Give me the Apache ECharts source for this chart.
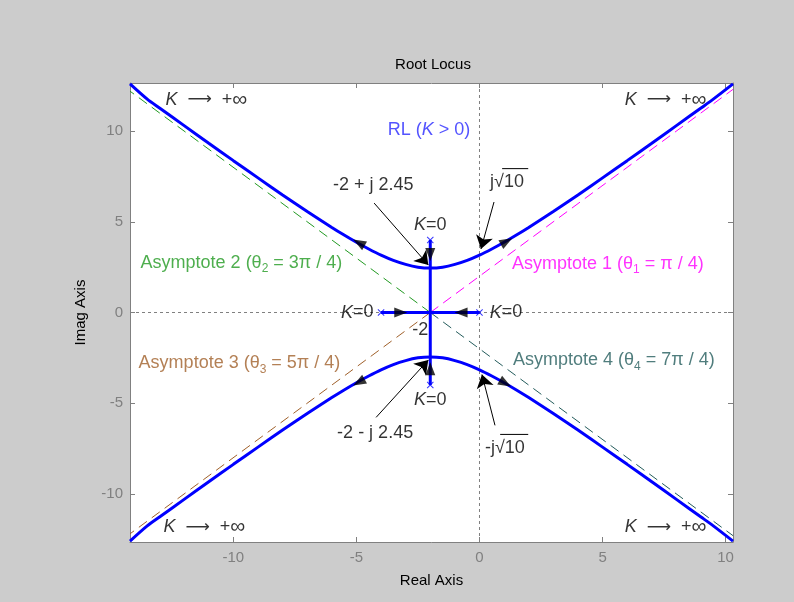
<!DOCTYPE html>
<html>
<head>
<meta charset="utf-8">
<script src="https://cdn.jsdelivr.net/npm/echarts@6/dist/echarts.min.js"></script>
<style>
  html, body { margin: 0; padding: 0; background: #cccccc; }
  #chart { width: 794px; height: 602px; }
</style>
</head>
<body>
<div id="chart"></div>
<script>
// Root locus of G(s) = K / [s (s + 4) (s^2 + 4s + 20)]

// axis extents and ticks
const xRange = [-14.2, 10.3];
const yRange = [-12.65, 12.65];
const xTicks = [-10, -5, 0, 5, 10];
const yTicks = [-10, -5, 0, 5, 10];

// complex branches leaving -2 ± j2.45
const locusX      = [-14.2, -13.5, -13, -12, -11, -10, -9, -8, -7, -6, -5.5, -5, -4.5, -4, -3.5, -3, -2.5, -2,
                     -1.5, -1, -0.5, 0, 0.5, 1, 1.5, 2, 3, 4, 5, 6, 7, 8, 9, 9.5, 10.3];
const locusUpperY = [12.6, 11.76, 11.27, 10.30, 9.33, 8.37, 7.42, 6.48, 5.57, 4.69, 4.27, 3.87, 3.50, 3.16, 2.87, 2.65, 2.50, 2.45,
                     2.50, 2.65, 2.87, 3.16, 3.50, 3.87, 4.27, 4.69, 5.57, 6.48, 7.42, 8.37, 9.33, 10.30, 11.27, 11.76, 12.6];
const locusLowerY = [-12.6, -11.76, -11.27, -10.30, -9.33, -8.37, -7.42, -6.48, -5.57, -4.69, -4.27, -3.87, -3.50, -3.16, -2.87, -2.65, -2.50, -2.45,
                     -2.50, -2.65, -2.87, -3.16, -3.50, -3.87, -4.27, -4.69, -5.57, -6.48, -7.42, -8.37, -9.33, -10.30, -11.27, -11.76, -12.6];

// real-axis branch and the vertical branch through the breakaway point
const realBranch = [[-4, 0], [0, 0]];
const verticalBranch = [[-2, 4], [-2, -4]];

// open-loop poles (K = 0)
const poles = [[0, 0], [-4, 0], [-2, 4], [-2, -4]];

// asymptotes from the centroid
const centroid = [-2, 0];
const asymptoteEnds = [[10.3, 12.3], [-14.2, 12.2], [-14.2, -12.2], [10.3, -12.3]];

// direction-of-increasing-K markers: position and heading (degrees, screen angle)
const arrowMarks = [[-3.2, 0], [-0.75, 0], [-2, 3.2], [-2, -3.1], [-4.9, 3.85], [1.1, 3.92], [-4.9, -3.85], [1.05, -3.9]];
const arrowHeadings = [0, 180, 270, 90, 151, 29, 209, 331];

// callout arrows: tail and tip
const calloutTails = [[-4.28, 6.03], [0.59, 6.09], [-4.2, -5.78], [0.63, -6.22]];
const calloutTips  = [[-2.08, 2.62], [0.06, 3.5], [-2.08, -2.62], [0.1, -3.42]];

// radical vincula over "10"
const vinculumUpper = [[0.92, 7.93], [1.98, 7.93]];
const vinculumLower = [[0.84, -6.72], [1.98, -6.72]];

// centred annotation texts and their anchor points
const labelTexts = [
  'RL ({k|K} > 0)',
  '-2 + j 2.45', 'j√10', '-2 - j 2.45', '-j√10',
  '{k|K}=0', '{k|K}=0', '{k|K}=0', '{k|K}=0',
  '-2'
];
const labelAnchors = [
  [-2.05, 10.06],
  [-4.32, 7.0], [1.12, 7.17], [-4.24, -6.66], [1.03, -7.49],
  [-2.0, 4.82], [-2.0, -4.84], [-4.97, 0], [1.08, 0],
  [-2.41, -0.98]
];

// "K -> +inf" texts at the four ends, left aligned
const cornerText = '{k|K}  {a|⟶}  +{n|∞}';
const cornerAnchors = [[-12.76, 11.72], [5.9, 11.72], [-12.84, -11.85], [5.9, -11.85]];

// asymptote texts, left aligned
const asymptoteTexts = [
  'Asymptote 1 (θ{s|1} = π / 4)',
  'Asymptote 2 (θ{s|2} = 3π / 4)',
  'Asymptote 3 (θ{s|3} = 5π / 4)',
  'Asymptote 4 (θ{s|4} = 7π / 4)'
];
const asymptoteTextAnchors = [[1.32, 2.67], [-13.77, 2.72], [-13.85, -2.8], [1.36, -2.63]];

const FONT = '"Liberation Sans", Arial, sans-serif';
const TEXT_SIZE = 18;
const BLUE = '#0000ff';
const asymptoteColors = ['#ff00ff', '#229a22', '#a0602a', '#245c5c'];
const labelColors = ['#2828ff', '#000', '#000', '#000', '#000', '#000', '#000', '#000', '#000', '#000'];

const pairs = (xs, ys) => xs.map((x, i) => [x, ys[i]]);
const richStyles = {
  k: { fontStyle: 'italic', fontFamily: FONT, fontSize: TEXT_SIZE, lineHeight: 24 },
  a: { fontFamily: '"DejaVu Sans", sans-serif', fontSize: 17, lineHeight: 24 },
  n: { fontFamily: FONT, fontSize: 21, lineHeight: 24 },
  s: { fontFamily: FONT, fontSize: 12, lineHeight: 24, verticalAlign: 'bottom' }
};
const textLabel = (text, color, position) => ({
  show: true, position: position, distance: 0, formatter: text, color: color,
  fontFamily: FONT, fontSize: TEXT_SIZE, lineHeight: 24, rich: richStyles
});

const series = [];

// dotted zero lines
series.push({
  type: 'line', data: [[xRange[0], 0], [xRange[1], 0]], symbol: 'none', silent: true, z: 1,
  lineStyle: { color: '#808080', width: 1, type: [3, 3] }
});
series.push({
  type: 'line', data: [[0, yRange[0]], [0, yRange[1]]], symbol: 'none', silent: true, z: 1,
  lineStyle: { color: '#808080', width: 1, type: [3, 3] }
});

// asymptotes
asymptoteEnds.forEach((end, i) => {
  series.push({
    type: 'line', data: [centroid, end], symbol: 'none', z: 2,
    lineStyle: { color: asymptoteColors[i], width: 1, type: [10, 6] }
  });
});

// locus branches
[pairs(locusX, locusUpperY), pairs(locusX, locusLowerY), realBranch, verticalBranch].forEach((d, i) => {
  series.push({
    type: 'line', data: d, symbol: 'none', smooth: i < 2 ? 0.3 : false, z: 3,
    lineStyle: { color: BLUE, width: 3 }
  });
});

// poles
series.push({
  type: 'scatter', data: poles, z: 4,
  symbol: 'path://M0,1L1,0L5,4L9,0L10,1L6,5L10,9L9,10L5,6L1,10L0,9L4,5Z',
  symbolSize: 7, itemStyle: { color: BLUE }
});

// direction arrows on the locus
series.push({
  type: 'scatter', z: 5,
  data: arrowMarks.map((p, i) => ({ value: p, symbolRotate: arrowHeadings[i] - 90 })),
  symbol: 'triangle', symbolSize: [10, 13], itemStyle: { color: '#000' }
});

// callout arrows
series.push({
  type: 'lines', coordinateSystem: 'cartesian2d', z: 6,
  data: calloutTails.map((t, i) => ({ coords: [t, calloutTips[i]] })),
  symbol: ['none', 'arrow'], symbolSize: 13,
  lineStyle: { color: '#000', width: 1, opacity: 1 }
});

// vincula
[vinculumUpper, vinculumLower].forEach(d => {
  series.push({ type: 'line', data: d, symbol: 'none', z: 6, lineStyle: { color: '#000', width: 1 } });
});

// centred annotation texts
series.push({
  type: 'scatter', z: 7, symbolSize: 0.001, silent: true,
  data: labelAnchors.map((p, i) => ({ value: p, label: textLabel(labelTexts[i], labelColors[i], 'inside') }))
});

// corner texts
series.push({
  type: 'scatter', z: 7, symbolSize: 0.001, silent: true,
  data: cornerAnchors.map(p => ({ value: p, label: textLabel(cornerText, '#000', 'right') }))
});

// asymptote texts
series.push({
  type: 'scatter', z: 7, symbolSize: 0.001, silent: true,
  data: asymptoteTextAnchors.map((p, i) => ({ value: p, label: textLabel(asymptoteTexts[i], asymptoteColors[i], 'right') }))
});

const frameLine = { show: true, onZero: false, lineStyle: { color: '#808080', width: 1 } };
const tickStyle = (values) => ({ show: true, inside: true, length: 5, customValues: values, lineStyle: { color: '#808080' } });

const option = {
  animation: false,
  backgroundColor: '#cccccc',
  title: {
    text: 'Root Locus', left: 428, top: 52, textAlign: 'center',
    textStyle: { fontFamily: FONT, fontSize: 15, fontWeight: 'normal', color: '#000' }
  },
  grid: { left: 130, right: 61, top: 83, bottom: 60, show: true, backgroundColor: '#ffffff', borderWidth: 0 },
  xAxis: [
    {
      type: 'value', min: xRange[0], max: xRange[1], position: 'bottom',
      axisLine: frameLine, axisTick: tickStyle(xTicks),
      axisLabel: { show: true, customValues: xTicks, color: '#808080', fontFamily: FONT, fontSize: 15, margin: 8 },
      splitLine: { show: false },
      name: 'Real Axis', nameLocation: 'middle', nameGap: 31,
      nameTextStyle: { fontFamily: FONT, fontSize: 15, color: '#000' }
    },
    {
      type: 'value', min: xRange[0], max: xRange[1], position: 'top',
      axisLine: frameLine, axisTick: tickStyle(xTicks),
      axisLabel: { show: false }, splitLine: { show: false }
    }
  ],
  yAxis: [
    {
      type: 'value', min: yRange[0], max: yRange[1], position: 'left',
      axisLine: frameLine, axisTick: tickStyle(yTicks),
      axisLabel: { show: true, customValues: yTicks, color: '#808080', fontFamily: FONT, fontSize: 15, margin: 7 },
      splitLine: { show: false },
      name: 'Imag Axis', nameLocation: 'middle', nameGap: 42,
      nameTextStyle: { fontFamily: FONT, fontSize: 15, color: '#000' }
    },
    {
      type: 'value', min: yRange[0], max: yRange[1], position: 'right',
      axisLine: frameLine, axisTick: tickStyle(yTicks),
      axisLabel: { show: false }, splitLine: { show: false }
    }
  ],
  series: series
};

const chart = echarts.init(document.getElementById('chart'));
chart.setOption(option);
</script>
</body>
</html>
